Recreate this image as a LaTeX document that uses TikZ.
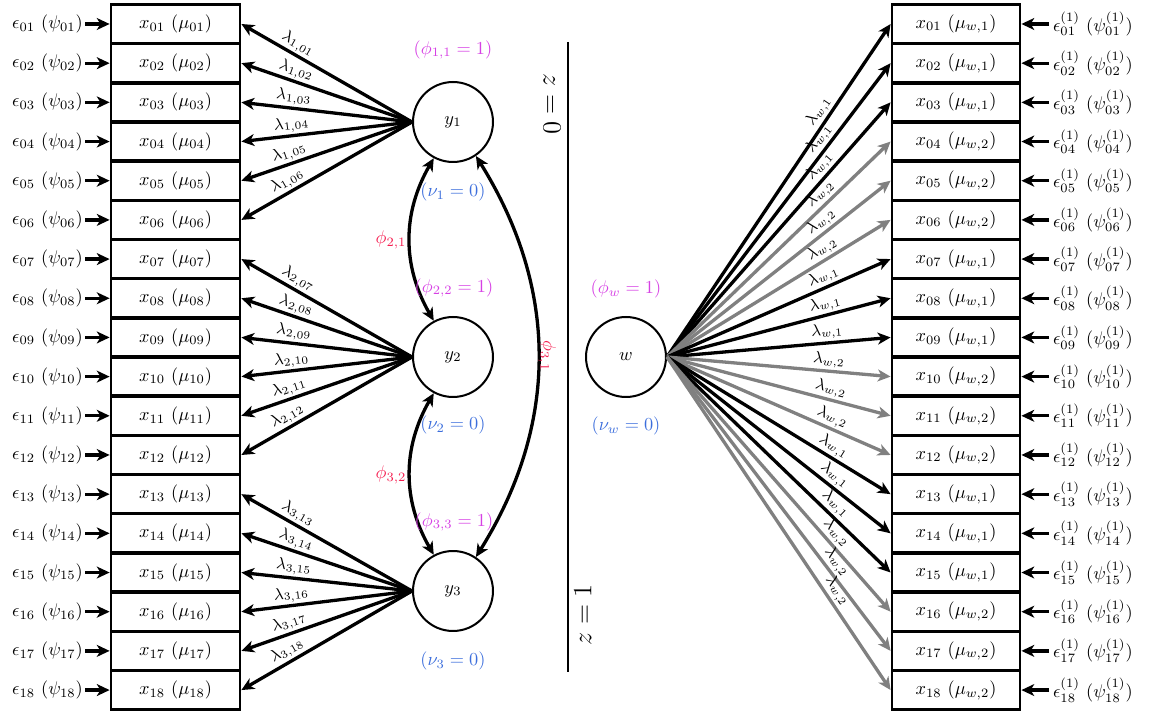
\documentclass[tikz,border=0pt]{standalone}
\usetikzlibrary{arrows.meta}
\definecolor{magphi}{RGB}{214,64,228}
\definecolor{bluenu}{RGB}{60,110,220}
\definecolor{redphi}{RGB}{245,30,80}
\begin{document}
\begin{tikzpicture}[x=0.5464pt,y=0.5464pt,
  box/.style={draw, line width=1.5pt, minimum width=70.5pt, minimum height=21pt, inner sep=0pt},
  rbox/.style={box, minimum width=70pt},
  lat/.style={draw, line width=1.1pt, circle, minimum size=43.7pt, inner sep=0pt},
  tip/.style={},
  arr/.style={line width=1.8pt, -{Stealth[length=7pt,width=6.5pt,inset=2pt]}},
  darr/.style={line width=1.8pt, {Stealth[length=7pt,width=6.5pt,inset=2pt]}-{Stealth[length=7pt,width=6.5pt,inset=2pt]}},
  lab/.style={font=\small, inner sep=1pt, sloped, above, pos=0.7, text=black},
  epsl/.style={inner sep=1pt, anchor=east},
  epsr/.style={inner sep=2pt, anchor=west},
]
\useasboundingbox (0,0) rectangle (1151,713);
\node[lat] (y1) at (453,591) {$y_1$};
\node[lat] (y2) at (453,356) {$y_2$};
\node[lat] (y3) at (453,122) {$y_3$};
\node[lat] (w) at (626,356) {$w$};
\foreach \i in {1,...,18}{
  \pgfmathsetmacro\Y{689-(\i-1)*39.18}
  \pgfmathtruncatemacro\k{int((\i-1)/6)+1}
  \pgfmathtruncatemacro\m{mod(int((\i-1)/3),2)+1}
  \edef\n{\ifnum\i<10 0\fi\i}
  \edef\col{\ifnum\m=1 black\else gray\fi}
  \node[box] (L\i) at (175.5,\Y) {$x_{\n}\ (\mu_{\n})$};
  \node[epsl] (EL\i) at (85,\Y) {$\epsilon_{\n}\ (\psi_{\n})$};
  \draw[arr] (EL\i) -- (L\i);
  \draw[arr] (y\k.west) -- node[lab] {$\lambda_{\k,\n}$} (L\i.east);
  \node[rbox] (R\i) at (956,\Y) {$x_{\n}\ (\mu_{w,\m})$};
  \node[epsr] (ER\i) at (1049,\Y) {$\epsilon^{(1)}_{\n}\ (\psi^{(1)}_{\n})$};
  \draw[arr] (ER\i) -- (R\i);
  \draw[arr,\col] (w.east) -- node[lab, pos=0.72] {$\lambda_{w,\m}$} (R\i.west);
}
\draw[darr] (y1.-118) to[out=-120,in=120] (y2.118);
\draw[darr] (y2.-118) to[out=-120,in=120] (y3.118);
\draw[darr] (y1.-56) to[out=-58,in=58] (y3.56);
\node[text=magphi] (p11) at (453,663) {$(\phi_{1,1} = 1)$};
\node[text=bluenu] (n1) at (453,521) {$(\nu_1 = 0)$};
\node[text=redphi] (p21) at (391,473) {$\phi_{2,1}$};
\node[text=magphi] (p22) at (454,425) {$(\phi_{2,2} = 1)$};
\node[text=bluenu] (n2) at (453,288) {$(\nu_2 = 0)$};
\node[text=redphi] (p32) at (391,238) {$\phi_{3,2}$};
\node[text=magphi] (p33) at (454,191) {$(\phi_{3,3} = 1)$};
\node[text=bluenu] (n3) at (453,52) {$(\nu_3 = 0)$};
\node[text=redphi, rotate=-90] (p31) at (547,357) {$\phi_{3,1}$};
\node[text=magphi] (pw) at (626,424) {$(\phi_w = 1)$};
\node[text=bluenu] (nw) at (626,287) {$(\nu_w = 0)$};
\coordinate (zt) at (568,671);
\coordinate (zb) at (568,41);
\draw[semithick] (zt) -- (zb);
\node[rotate=-90, font=\Large] (z0) at (552,609) {$z = 0$};
\node[rotate=90, font=\Large] (z1) at (583,98) {$z = 1$};
\end{tikzpicture}
\end{document}
